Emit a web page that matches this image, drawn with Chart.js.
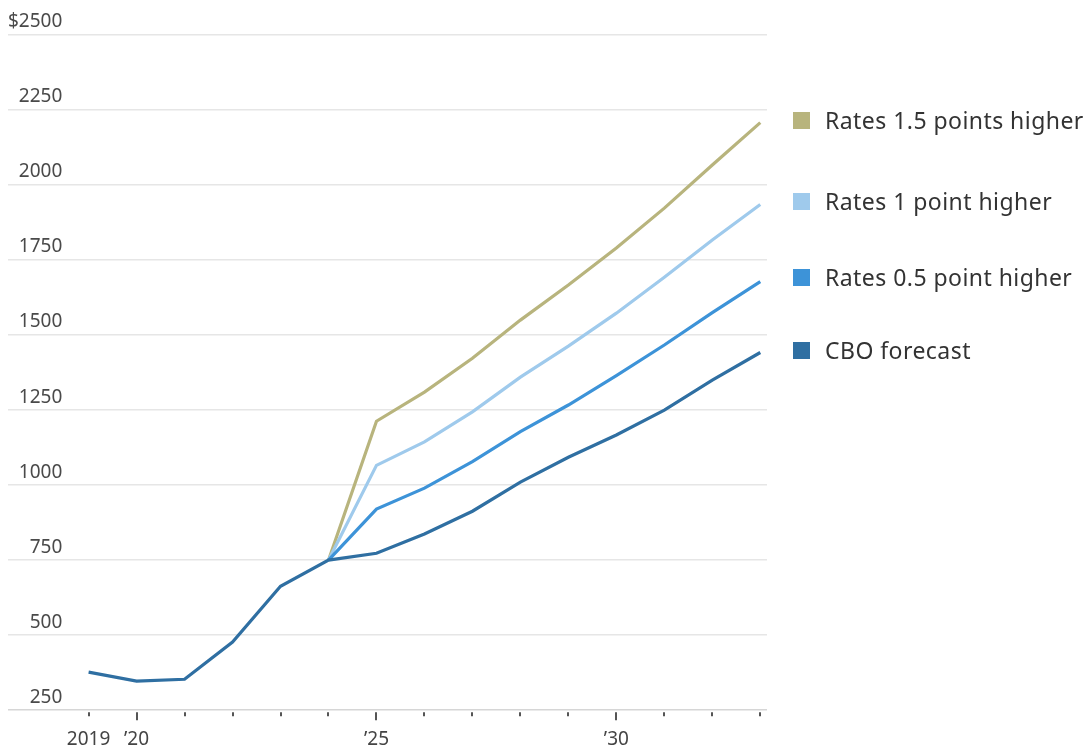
<!DOCTYPE html>
<html>
<head>
<meta charset="utf-8">
<title>Federal interest costs</title>
<script src="https://cdn.jsdelivr.net/npm/chart.js@4.4.1/dist/chart.umd.min.js"></script>
<style>
  html, body { margin: 0; padding: 0; background: #ffffff; overflow: hidden; }
  #wrap { position: relative; width: 1089px; height: 749px; overflow: hidden; }
  #chart { position: absolute; left: 0; top: 0; }
  .legend { position: absolute; left: 793px; top: 0; font-family: "Noto Sans", sans-serif; font-size: 23px; letter-spacing: 0.45px; color: #333; }
  .item { position: absolute; left: 0; height: 30px; line-height: 30px; white-space: nowrap; display: flex; align-items: center; }
  .sw { width: 17px; height: 17px; margin-right: 15px; flex: none; }
</style>
</head>
<body>
<div id="wrap">
  <canvas id="chart" width="1089" height="769"></canvas>
  <div class="legend" id="legend"></div>
</div>
<script>
// Years on the horizontal axis
const years = [2019, 2020, 2021, 2022, 2023, 2024, 2025, 2026, 2027, 2028, 2029, 2030, 2031, 2032, 2033];

// Net interest outlays, billions of dollars
const cboForecast   = [377, 347, 353, 477, 663, 750, 773, 837, 913, 1010, 1093, 1167, 1250, 1350, 1442];
const ratesHalf     = [null, null, null, null, null, 750, 920, 990, 1078, 1178, 1267, 1365, 1467, 1575, 1678];
const ratesOne      = [null, null, null, null, null, 750, 1066, 1144, 1244, 1360, 1463, 1573, 1693, 1817, 1935];
const ratesOneHalf  = [null, null, null, null, null, 750, 1213, 1310, 1423, 1550, 1667, 1790, 1923, 2067, 2208];

// Axis labelling
const yTicks = [250, 500, 750, 1000, 1250, 1500, 1750, 2000, 2250, 2500];
const xLabels = { 2019: '2019', 2020: '\u201920', 2025: '\u201925', 2030: '\u201930' };
const majorYears = [2020, 2025, 2030];

const seriesNames  = ['CBO forecast', 'Rates 0.5 point higher', 'Rates 1 point higher', 'Rates 1.5 points higher'];
const seriesColors = ['#2f6fa2', '#3d93d8', '#9fcaec', '#b8b47d'];
const seriesValues = [cboForecast, ratesHalf, ratesOne, ratesOneHalf];

const FONT = '"Noto Sans", sans-serif';

const datasets = seriesValues.map((vals, i) => ({
  label: seriesNames[i],
  data: years.map((yr, j) => ({ x: yr, y: vals[j] })),
  borderColor: seriesColors[i],
  backgroundColor: seriesColors[i],
  borderWidth: 3.2,
  pointRadius: 0,
  tension: 0,
  spanGaps: false,
  order: i
}));

// Small dashes under the baseline for every year, longer for labelled decades
const yearTicks = {
  id: 'yearTicks',
  afterDraw(chart) {
    const ctx = chart.ctx;
    const xs = chart.scales.x;
    const base = chart.chartArea.bottom;
    ctx.save();
    ctx.strokeStyle = '#555';
    ctx.lineWidth = 2;
    years.forEach(yr => {
      const px = Math.round(xs.getPixelForValue(yr));
      const len = majorYears.includes(yr) ? 8 : 4;
      ctx.beginPath();
      ctx.moveTo(px, base + 2);
      ctx.lineTo(px, base + 2 + len);
      ctx.stroke();
    });
    ctx.restore();
  }
};

new Chart(document.getElementById('chart'), {
  type: 'line',
  data: { datasets },
  options: {
    responsive: false,
    animation: false,
    events: [],
    layout: { padding: { left: 8, top: 35, right: 322, bottom: 0 } },
    plugins: { legend: { display: false }, tooltip: { enabled: false } },
    scales: {
      x: {
        type: 'linear',
        min: 2017.32,
        max: 2033.14,
        afterBuildTicks: s => { s.ticks = years.map(v => ({ value: v })); },
        grid: { display: false, drawTicks: false },
        border: { display: false },
        ticks: {
          autoSkip: false,
          maxRotation: 0,
          padding: 18,
          color: '#444',
          font: { family: FONT, size: 19 },
          callback: v => xLabels[v] || ''
        }
      },
      y: {
        type: 'linear',
        min: 250,
        max: 2500,
        afterBuildTicks: s => { s.ticks = yTicks.map(v => ({ value: v })); },
        grid: {
          drawTicks: false,
          lineWidth: 1.5,
          color: c => (c.tick && c.tick.value === 250) ? '#d6d6d6' : '#e6e6e6'
        },
        border: { display: false },
        ticks: {
          mirror: true,
          crossAlign: 'far',
          padding: 0,
          labelOffset: -13,
          color: '#4a4a4a',
          font: { family: FONT, size: 19 },
          callback: v => (v === 2500 ? '$' + v : String(v))
        }
      }
    }
  },
  plugins: [yearTicks]
});

// Legend to the right of the plot, top entry first
const legendRows = [
  { idx: 3, cy: 120 },
  { idx: 2, cy: 201 },
  { idx: 1, cy: 277 },
  { idx: 0, cy: 350 }
];
const legend = document.getElementById('legend');
legendRows.forEach(r => {
  const item = document.createElement('div');
  item.className = 'item';
  item.style.top = (r.cy - 15) + 'px';
  const sw = document.createElement('span');
  sw.className = 'sw';
  sw.style.background = seriesColors[r.idx];
  const txt = document.createElement('span');
  txt.textContent = seriesNames[r.idx];
  item.appendChild(sw);
  item.appendChild(txt);
  legend.appendChild(item);
});
</script>
</body>
</html>
